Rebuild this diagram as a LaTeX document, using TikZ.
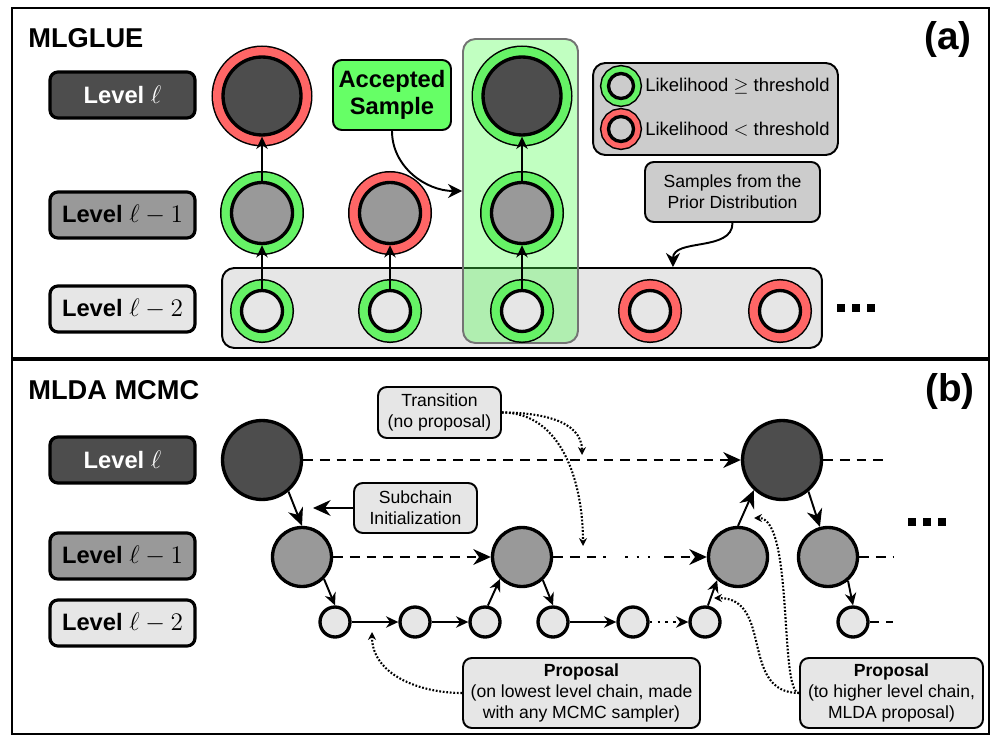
\documentclass[tikz,border=0pt]{standalone}
\usepackage{fontspec}
\setmainfont{Liberation Sans}
\usepackage{xcolor}
\usepackage{tikz}
\usetikzlibrary{arrows.meta,positioning}

\definecolor{lvdark}{HTML}{4D4D4D}
\definecolor{lvmid}{HTML}{999999}
\definecolor{lvlight}{HTML}{E6E6E6}
\definecolor{lvgrey}{HTML}{CCCCCC}
\definecolor{okgreen}{HTML}{66F266}
\definecolor{badred}{HTML}{FF6666}
\definecolor{accgreen}{HTML}{66FF66}

\newcommand{\lvmath}[1]{{\fontsize{15.5}{15}\selectfont$#1$}}

\begin{document}
\begin{tikzpicture}[x=0.02cm,y=-0.02cm,
  lvl/.style ={draw,rounded corners=4.5pt,line width=1.8pt,minimum width=2.9cm,
               minimum height=0.92cm,inner sep=1pt,
               font=\fontsize{13.5}{15}\selectfont\bfseries},
  lvA/.style ={lvl,fill=lvdark,text=white},
  lvB/.style ={lvl,fill=lvmid},
  lvC/.style ={lvl,fill=lvlight},
  ttl/.style ={font=\fontsize{15.5}{18}\selectfont\bfseries,anchor=west,inner sep=0},
  tag/.style ={font=\fontsize{22}{24}\selectfont\bfseries,inner sep=0},
  smp/.style ={circle,draw,line width=1.9pt,inner sep=0},
  topc/.style={smp,fill=lvdark,minimum size=1.56cm},
  midc/.style={smp,fill=lvmid,minimum size=1.22cm},
  lowc/.style={smp,fill=lvlight,minimum size=0.82cm},
  tinyc/.style={smp,fill=lvlight,minimum size=0.6cm},
  ring/.style 2 args={preaction={draw=black,line width=#2+0.06cm},
                      preaction={draw=#1,line width=#2}},
  ok/.style  ={ring={okgreen}{0.4cm}},
  bad/.style ={ring={badred}{0.4cm}},
  note/.style={draw,rounded corners=5pt,line width=1.1pt,align=center,
               font=\fontsize{10}{12}\selectfont,inner sep=2pt},
  arr/.style ={-{Stealth[length=7pt,width=6.5pt]},line width=1.1pt},
  bigarr/.style={-{Stealth[length=10pt,width=9pt]},line width=1.1pt},
  curv/.style={-{Stealth[length=8pt,width=8pt]},line width=1.1pt},
  dashline/.style={line width=1.1pt,dash pattern=on 5.5pt off 4pt},
  dasharr/.style={bigarr,dash pattern=on 5.5pt off 4pt},
  hint/.style={-{Stealth[length=4.5pt,width=4.5pt]},line width=1.2pt,
               dash pattern=on 1pt off 1pt},
  frame/.style={line width=1.2pt}
]
\useasboundingbox (0,0) rectangle (993,736);

%% Panel frames
\draw[frame] (12,8) rectangle (989,358);
\draw[frame] (12,360) rectangle (989,734);

%% ---------------- (a) MLGLUE ----------------
\node[ttl] (tita) at (28,38) {MLGLUE};
\node[tag] (taga) at (948,40) {(a)};

\node[lvA] (la0) at (122.5,95)  {Level \lvmath{\ell}};
\node[lvB] (la1) at (122.5,215) {Level \lvmath{\ell-1}};
\node[lvC] (la2) at (122.5,309) {Level \lvmath{\ell-2}};

%% prior samples strip and accepted column
\node[draw,fill=lvlight,rounded corners=7pt,line width=1.1pt,
      minimum width=12cm,minimum height=1.6cm] (prior) at (522,308) {};
\node[draw=black!55,fill=green!70,fill opacity=0.35,rounded corners=7pt,
      line width=1.1pt,minimum width=2.3cm,minimum height=6.08cm] (acc) at (520.5,191) {};

%% samples
\node[topc,bad] (t1) at (262,96)  {};
\node[midc,ok]  (m1) at (262,213) {};
\node[lowc,ok]  (p1) at (262,311) {};
\node[midc,bad] (m2) at (390,213) {};
\node[lowc,ok]  (p2) at (390,311) {};
\node[topc,ok]  (t3) at (522,96)  {};
\node[midc,ok]  (m3) at (522,213) {};
\node[lowc,ok]  (p3) at (522,311) {};
\node[lowc,bad] (p4) at (650,311) {};
\node[lowc,bad] (p5) at (780,311) {};

\draw[arr] (p1) -- (m1);
\draw[arr] (m1) -- (t1);
\draw[arr] (p2) -- (m2);
\draw[arr] (p3) -- (m3);
\draw[arr] (m3) -- (t3);

\foreach \i in {0,1,2} \fill (837+\i*15,304) rectangle ++(8,8);

%% legend
\node[draw,fill=lvgrey,rounded corners=7pt,line width=1.1pt,
      minimum width=4.9cm,minimum height=1.84cm] (legend) at (715.5,109) {};
\node[smp,fill=lvgrey,minimum size=0.5cm,ring={okgreen}{0.28cm}] (lgok) at (621,86) {};
\node[smp,fill=lvgrey,minimum size=0.5cm,ring={badred}{0.28cm}] (lgbad) at (621,129) {};
\node[anchor=west,inner sep=0,font=\fontsize{10.5}{12}\selectfont] (lgoktx)
  at (645,86) {Likelihood $\geq$ threshold};
\node[anchor=west,inner sep=0,font=\fontsize{10.5}{12}\selectfont] (lgbadtx)
  at (645,129) {Likelihood $<$ threshold};

%% annotations
\node[note,fill=lvgrey,minimum width=3.5cm,minimum height=1.2cm] (samples)
  at (732.5,192) {Samples from the\\Prior Distribution};
\draw[curv] (samples.south) to[out=-90,in=90] ([xshift=3.02cm]prior.north);

\node[note,fill=accgreen,font=\fontsize{13.5}{15.5}\selectfont\bfseries,
      minimum width=2.36cm,minimum height=1.4cm,inner sep=1pt] (accbox)
  at (392,95) {Accepted\\Sample};
\draw[curv] (accbox.south) to[out=-90,in=180] (acc.west);

%% ---------------- (b) MLDA MCMC ----------------
\node[ttl] (titb) at (28,390) {MLDA MCMC};
\node[tag] (tagb) at (950,392) {(b)};

\node[lvA] (lb0) at (122.5,460) {Level \lvmath{\ell}};
\node[lvB] (lb1) at (122.5,556) {Level \lvmath{\ell-1}};
\node[lvC] (lb2) at (122.5,623) {Level \lvmath{\ell-2}};

%% chain states
\node[topc,minimum size=1.58cm] (a1) at (262,460) {};
\node[topc,minimum size=1.58cm] (a2) at (782,460) {};
\node[midc,minimum size=1.18cm] (b1) at (302,557) {};
\node[midc,minimum size=1.18cm] (b2) at (522,557) {};
\node[midc,minimum size=1.18cm] (b3) at (738,557) {};
\node[midc,minimum size=1.18cm] (b4) at (828,557) {};
\node[tinyc] (c1) at (335,622) {};
\node[tinyc] (c2) at (415,622) {};
\node[tinyc] (c3) at (485,622) {};
\node[tinyc] (c4) at (553,622) {};
\node[tinyc] (c5) at (633,622) {};
\node[tinyc] (c6) at (705,622) {};
\node[tinyc] (c7) at (853,622) {};

\coordinate (a2end) at (887,460);
\coordinate (b2x)   at (606,557);
\coordinate (b3x)   at (664,557);
\coordinate (b4end) at (893,557);
\coordinate (c7end) at (893,622);

%% level l
\draw[dasharr] (a1) -- (a2);
\draw[dashline] (a2) -- (a2end);
%% level l-1
\draw[dasharr] (b1) -- (b2);
\draw[dashline] (b2) -- (b2x);
\draw[line width=1.2pt,dash pattern=on 0pt off 11pt on 1.4pt off 5pt on 1.4pt off 5pt on 1.4pt off 40pt]
  (b2x) -- (b3x);
\draw[dasharr] (b3x) -- (b3);
\draw[dashline] (b4) -- (b4end);
%% level l-2
\draw[arr] (c1) -- (c2);
\draw[arr] (c2) -- (c3);
\draw[arr] (c4) -- (c5);
\draw[arr,dash pattern=on 1.2pt off 3.3pt] (c5) -- (c6);
\draw[dashline] (c7) -- (c7end);

%% between levels
\draw[bigarr] (a1.-50) -- (b1.north);
\draw[arr] (b1.-45) -- (c1.north);
\draw[arr] (c3.80) -- (b2.225);
\draw[arr] (b2.-48) -- (c4.north);
\draw[arr] (c6.80) -- (b3.228);
\draw[bigarr] (b3.north) -- (a2.227);
\draw[bigarr] (a2.-50) -- (b4.105);
\draw[arr] (b4.-50) -- (c7.north);

\foreach \i in {0,1,2} \fill (908+\i*15,518) rectangle ++(8,8);

%% annotations
\node[note,fill=lvlight,minimum width=2.46cm,minimum height=1.0cm] (subinit)
  at (415.5,508) {Subchain\\Initialization};
\coordinate (subtip) at (313,508);
\draw[bigarr] (subinit.west) -- (subtip);

\node[note,fill=lvlight,minimum width=2.46cm,minimum height=1.02cm] (trans)
  at (439.5,412.5) {Transition\\(no proposal)};
\coordinate (trtipA) at (582,455);
\coordinate (trtipB) at (583,546);
\draw[hint] (trans.east) to[out=0,in=90] (trtipA);
\draw[hint] (trans.east) to[out=0,in=90] (trtipB);

\node[note,fill=lvlight,minimum width=4.74cm,minimum height=1.4cm] (proplo)
  at (581.5,693) {\textbf{Proposal}\\(on lowest level chain, made\\with any MCMC sampler)};
\coordinate (pltip) at (372,632);
\draw[hint] (proplo.west) to[out=180,in=-90] (pltip);

\node[note,fill=lvlight,minimum width=3.66cm,minimum height=1.4cm] (prophi)
  at (891.5,693) {\textbf{Proposal}\\(to higher level chain,\\MLDA proposal)};
\coordinate (phtipA) at (714,598);
\coordinate (phtipB) at (754,518);
\draw[hint] (prophi.west) .. controls +(-60,0) and +(60,0) .. (phtipA);
\draw[hint] (prophi.west) .. controls +(-20,0) and +(40,0) .. (phtipB);
\end{tikzpicture}
\end{document}
